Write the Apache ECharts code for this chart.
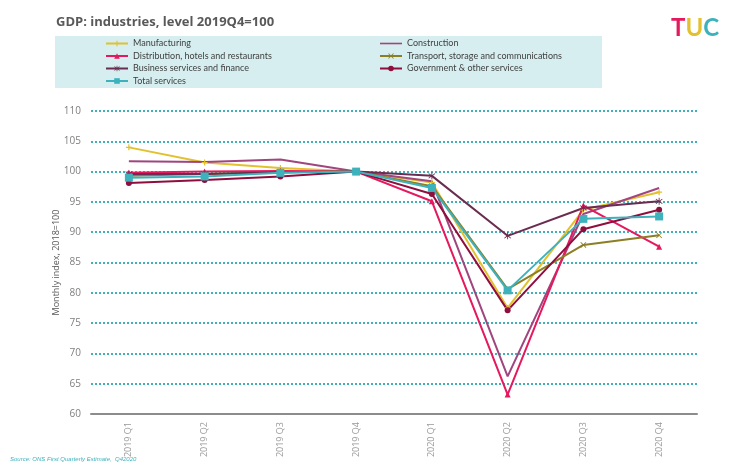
<!DOCTYPE html>
<html>
<head>
<meta charset="UTF-8">
<title>GDP: industries</title>
<script src="https://cdn.jsdelivr.net/npm/echarts@6/dist/echarts.min.js"></script>
<style>
    html, body { margin: 0; padding: 0; background: #fff; }
    #chart { width: 750px; height: 463px; }
</style>
</head>
<body>
<div id="chart"></div>
<script>
    const quarters = ['2019 Q1', '2019 Q2', '2019 Q3', '2019 Q4', '2020 Q1', '2020 Q2', '2020 Q3', '2020 Q4'];

    const manufacturing = [104.0, 101.5, 100.6, 100, 98.2, 77.5, 93.7, 96.6];
    const construction  = [101.7, 101.6, 102.0, 100, 98.4, 66.2, 93.0, 97.3];
    const distribution  = [99.8, 100.0, 100.1, 100, 95.1, 63.2, 94.4, 87.6];
    const transport     = [99.3, 99.6, 99.9, 100, 97.6, 80.6, 87.9, 89.5];
    const business      = [99.6, 99.6, 99.9, 100, 99.3, 89.4, 94.0, 95.1];
    const government    = [98.1, 98.6, 99.2, 100, 96.3, 77.1, 90.5, 93.7];
    const totalServices = [99.0, 99.2, 99.8, 100, 97.3, 80.4, 92.2, 92.6];

    const plusIcon = 'path://M4,0H6V4H10V6H6V10H4V6H0V4H4Z';
    const crossIcon = 'path://M0,1L1,0L5,4L9,0L10,1L6,5L10,9L9,10L5,6L1,10L0,9L4,5Z';
    const starIcon = 'path://M4.4,0H5.6V4.1L9,1.2L9.8,2L6.3,5L9.8,8L9,8.8L5.6,5.9V10H4.4V5.9L1,8.8L0.2,8L3.7,5L0.2,2L1,1.2L4.4,4.1Z';
    const plainLine = 'path://M0,0H22V1.6H0Z';

    function line(name, data, color, symbol, size) {
        return {
            name: name,
            type: 'line',
            data: data,
            symbol: symbol,
            symbolSize: size,
            showSymbol: true,
            itemStyle: { color: color },
            lineStyle: { color: color, width: 2 },
            animation: false
        };
    }

    const legendText = { fontFamily: 'Lato', fontSize: 9, color: '#404040' };

    const chart = echarts.init(document.getElementById('chart'));
    chart.setOption({
        backgroundColor: '#fff',
        title: [{
            text: 'GDP: industries, level 2019Q4=100',
            left: 51, top: 11,
            textStyle: { fontFamily: 'Open Sans', fontSize: 13, fontWeight: 'bold', color: '#595959' }
        }, {
            text: '{t|T}{u|U}{c|C}',
            left: 666, top: 11,
            textStyle: {
                rich: {
                    t: { fontFamily: 'Lato', fontSize: 24, fontWeight: 'bold', color: '#E5195E' },
                    u: { fontFamily: 'Lato', fontSize: 24, fontWeight: 'bold', color: '#E3C12E' },
                    c: { fontFamily: 'Lato', fontSize: 24, fontWeight: 'bold', color: '#3DB2BC' }
                }
            }
        }, {
            text: 'Source: ONS First Quarterly Estimate,  Q42020',
            left: 5, top: 451,
            textStyle: { fontSize: 6, fontStyle: 'italic', fontWeight: 'normal', color: '#3DB2BC' }
        }],
        graphic: [{
            type: 'rect',
            shape: { x: 55, y: 36, width: 547, height: 52 },
            style: { fill: '#D6EEF0' },
            z: -1
        }],
        legend: [{
            orient: 'vertical',
            left: 100, top: 34,
            itemWidth: 22, itemHeight: 7, itemGap: 3.5,
            textStyle: legendText,
            data: ['Manufacturing', 'Distribution, hotels and restaurants', 'Business services and finance', 'Total services']
        }, {
            orient: 'vertical',
            left: 374, top: 34,
            itemWidth: 22, itemHeight: 7, itemGap: 3.5,
            textStyle: legendText,
            data: [{ name: 'Construction', icon: plainLine }, 'Transport, storage and communications', 'Government & other services']
        }],
        grid: { left: 91, right: 53, top: 111, bottom: 49 },
        xAxis: {
            type: 'category',
            data: quarters,
            boundaryGap: true,
            axisLine: { lineStyle: { color: '#8c8c8c', width: 2 } },
            axisTick: { interval: 2, length: 5, lineStyle: { color: '#8c8c8c', width: 2 } },
            axisLabel: { rotate: 90, color: '#999999', fontSize: 9, fontFamily: 'Open Sans', margin: 8 }
        },
        yAxis: {
            type: 'value',
            min: 60, max: 110, interval: 5,
            name: 'Monthly index, 2018=100',
            nameLocation: 'middle',
            nameGap: 30,
            nameMoveOverlap: false,
            nameTextStyle: { fontSize: 9, color: '#595959', fontFamily: 'Open Sans' },
            axisLine: { show: false },
            axisTick: { show: false },
            axisLabel: { color: '#7f7f7f', fontSize: 10, fontFamily: 'Open Sans', margin: 10 },
            splitLine: { lineStyle: { color: '#3DB2BC', type: [2, 2], width: 2 } }
        },
        series: [
            line('Manufacturing', manufacturing, '#E3C12E', plusIcon, 6),
            line('Construction', construction, '#A0467F', 'none', 0),
            line('Distribution, hotels and restaurants', distribution, '#E5195E', 'triangle', 6),
            line('Transport, storage and communications', transport, '#8C7E24', crossIcon, 6),
            line('Business services and finance', business, '#6A2C50', starIcon, 7),
            line('Government & other services', government, '#8E0E3D', 'circle', 6),
            line('Total services', totalServices, '#3DB2BC', 'rect', 8)
        ]
    });
</script>
</body>
</html>
